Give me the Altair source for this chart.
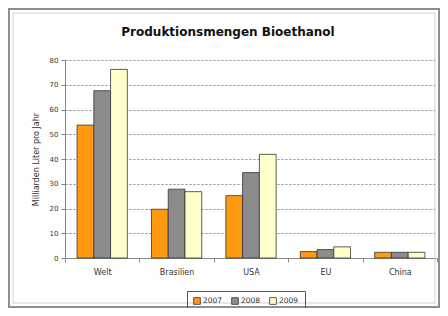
import altair as alt
import pandas as pd

categories = ["Welt", "Brasilien", "USA", "EU", "China"]
years = ["2007", "2008", "2009"]
v2007 = [53.7, 19.7, 25.2, 2.6, 2.3]
v2008 = [67.6, 27.8, 34.5, 3.4, 2.3]
v2009 = [76.2, 26.8, 41.9, 4.5, 2.3]
colors = ["#FF9912", "#8C8C8C", "#FFFFCC"]
y_ticks = [0, 10, 20, 30, 40, 50, 60, 70, 80]

rows = []
for i, c in enumerate(categories):
    for yr, vals in zip(years, [v2007, v2008, v2009]):
        rows.append({"Region": c, "Jahr": yr, "Wert": vals[i]})
df = pd.DataFrame(rows)

FONT = "DejaVu Sans"

frame = alt.Chart(pd.DataFrame({"a": [0]})).mark_rect(
    fillOpacity=0, stroke="#8f8f8f", strokeWidth=2
).encode(x=alt.value(-56), x2=alt.value(374), y=alt.value(-51), y2=alt.value(247))

frame2 = alt.Chart(pd.DataFrame({"a": [0]})).mark_rect(
    fillOpacity=0, stroke="#cfcfcf", strokeWidth=1
).encode(x=alt.value(-52), x2=alt.value(370), y=alt.value(-47), y2=alt.value(243))

bars = alt.Chart(df).mark_bar(stroke="#333333", strokeWidth=0.8).encode(
    x=alt.X(
        "Region:N", sort=categories,
        scale=alt.Scale(paddingInner=0, paddingOuter=0),
        axis=alt.Axis(title=None, labelAngle=0, tickBand="extent", domainColor="#8a8a8a",
                      tickColor="#8a8a8a", tickSize=4, labelFont=FONT, labelFontSize=8,
                      labelPadding=6, labelColor="#333333"),
    ),
    xOffset=alt.XOffset("Jahr:N", sort=years, scale=alt.Scale(paddingOuter=0.72, paddingInner=0)),
    y=alt.Y(
        "Wert:Q", scale=alt.Scale(domain=[0, 80], nice=False),
        axis=alt.Axis(values=y_ticks, title="Milliarden Liter pro Jahr", grid=True,
                      gridDash=[2, 2], gridColor="#8a8a8a", gridWidth=1,
                      domainColor="#7f7fa0", tickColor="#7f7fa0", tickSize=4,
                      labelFont=FONT, labelFontSize=7, labelColor="#333333", labelPadding=3,
                      titleFont=FONT, titleFontSize=8, titleFontWeight="normal",
                      titleColor="#333333", titlePadding=9),
    ),
    color=alt.Color(
        "Jahr:N", scale=alt.Scale(domain=years, range=colors),
        legend=alt.Legend(title=None, orient="none", legendX=122, legendY=231,
                          direction="horizontal", strokeColor="#555555", padding=6,
                          symbolType="square", symbolSize=45, symbolStrokeColor="#333333",
                          symbolStrokeWidth=0.8, labelFont=FONT, labelFontSize=7.5,
                          labelColor="#333333", columnPadding=7, labelOffset=2),
    ),
)

chart = alt.layer(frame, frame2, bars).properties(
    width=372, height=198,
    title=alt.TitleParams("Produktionsmengen Bioethanol", font=FONT, fontSize=12,
                          fontWeight="bold", color="#111111", dx=-23, offset=0, dy=31),
    autosize=alt.AutoSizeParams(type="none"),
    padding={"left": 57, "top": 52, "right": 3, "bottom": 50},
    background="white",
).configure_view(stroke=None)

chart.save("out.html", embed_options={"renderer": "svg", "actions": False})
